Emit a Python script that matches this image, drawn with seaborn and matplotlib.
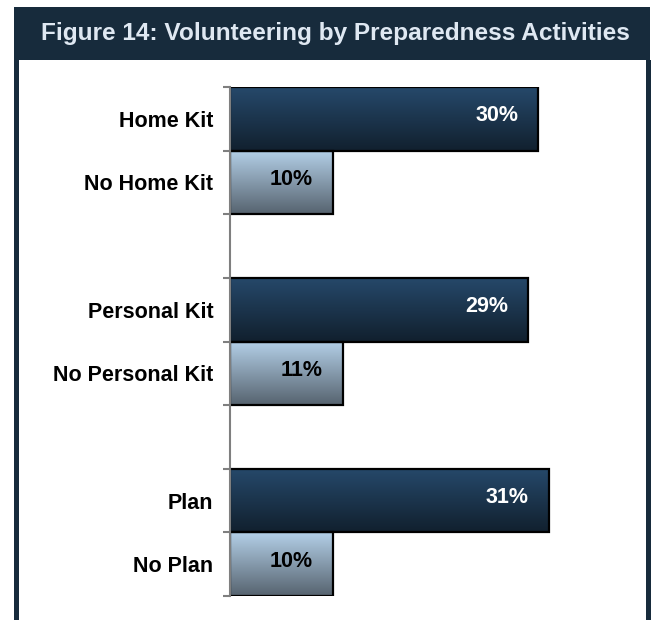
import numpy as np
import pandas as pd
import matplotlib
matplotlib.use("Agg")
import matplotlib.pyplot as plt
from matplotlib.colors import LinearSegmentedColormap
from matplotlib.patches import Rectangle
import seaborn as sns

# Share of respondents who volunteer, by preparedness activity
categories = ["Home Kit", "No Home Kit", "Personal Kit", "No Personal Kit", "Plan", "No Plan"]
values = [30, 10, 29, 11, 31, 10]
groups = ["has", "has not", "has", "has not", "has", "has not"]
# category order on the axis, with blank rows separating the three activity pairs
row_order = ["Home Kit", "No Home Kit", "", "Personal Kit", "No Personal Kit", " ", "Plan", "No Plan"]

title = "Figure 14: Volunteering by Preparedness Activities"

FRAME = "#172b3c"
TITLE_COLOR = "#dfe8f2"
palette = {"has": "#1b3550", "has not": "#8aa3b8"}
gradients = {
    "has": ("#26496b", "#11202e"),
    "has not": ("#b4d0e8", "#56636f"),
}
label_colors = {"has": "white", "has not": "black"}

df = pd.DataFrame({"category": categories, "value": values, "group": groups})

sns.set_theme(style="white")
plt.rcParams["font.family"] = ["Liberation Sans", "DejaVu Sans"]

W, H = 653, 620
fig = plt.figure(figsize=(W / 100, H / 100), dpi=100)
fig.patch.set_facecolor("white")

def fx(px):
    return px / W

def fy(py):
    return 1 - py / H

# frame: header band and side borders
fig.add_artist(Rectangle((fx(14), fy(60)), fx(636), fy(7) - fy(60),
                         transform=fig.transFigure, facecolor=FRAME, edgecolor="none", zorder=0))
fig.add_artist(Rectangle((fx(14), 0), fx(4.5), fy(60),
                         transform=fig.transFigure, facecolor=FRAME, edgecolor="none", zorder=0))
fig.add_artist(Rectangle((fx(646), 0), fx(4.5), fy(60),
                         transform=fig.transFigure, facecolor=FRAME, edgecolor="none", zorder=0))
fig.text(fx(335), fy(33.5), title, ha="center", va="center", color=TITLE_COLOR,
         fontsize=17.6, fontweight="bold")

ax = fig.add_axes([fx(230), fy(596), fx(641) - fx(230), fy(87) - fy(596)])
sns.barplot(data=df, x="value", y="category", hue="group", order=row_order,
            hue_order=["has", "has not"], palette=palette, dodge=False, width=1.0,
            orient="h", legend=False, edgecolor="black", linewidth=1.6, ax=ax)

ax.set_xlim(0, 40)
ax.set_ylim(len(row_order) - 0.5, -0.5)

# vertical gradient fill clipped to each bar, plus the value label
bars = [p for p in ax.patches if p.get_width() > 0]
for p in bars:
    x0, y0 = p.get_x(), p.get_y()
    w, h = p.get_width(), p.get_height()
    yc = y0 + h / 2
    cat = row_order[int(round(yc))]
    row = df.loc[df["category"] == cat].iloc[0]
    g, v = row["group"], row["value"]
    top, bot = gradients[g]
    cmap = LinearSegmentedColormap.from_list(g, [top, bot])
    grad = np.linspace(0, 1, 256).reshape(-1, 1)
    im = ax.imshow(grad, cmap=cmap, aspect="auto",
                   extent=(x0, x0 + w, y0 + h, y0), zorder=p.get_zorder() - 0.1,
                   interpolation="bicubic")
    p.set_facecolor("none")
    im.set_clip_path(p)
    ax.annotate(f"{v}%", xy=(v, yc), xytext=(-20, 3), textcoords="offset pixels",
                ha="right", va="center", fontsize=15.5, fontweight="bold",
                color=label_colors[g])

ax.set_ylim(len(row_order) - 0.5, -0.5)
ax.set_xlim(0, 40)

# axis styling
for s in ["top", "right", "bottom"]:
    ax.spines[s].set_visible(False)
ax.spines["left"].set_color("#7f7f7f")
ax.spines["left"].set_linewidth(1.5)
ax.set_xticks([])
ax.set_xlabel("")
ax.set_ylabel("")
ax.set_yticks(range(len(row_order)))
ax.set_yticklabels(row_order, fontsize=15.5, fontweight="bold", color="black")
ax.set_yticks(np.arange(-0.5, len(row_order), 1.0), minor=True)
ax.tick_params(axis="y", which="major", length=0, pad=12)
ax.tick_params(axis="y", which="minor", length=5, width=1.5, color="#7f7f7f", direction="out", left=True)
for lbl in ax.get_yticklabels():
    lbl.set_y(lbl.get_position()[1])
ax.set_facecolor("none")

fig.savefig("out.png", dpi=100)
